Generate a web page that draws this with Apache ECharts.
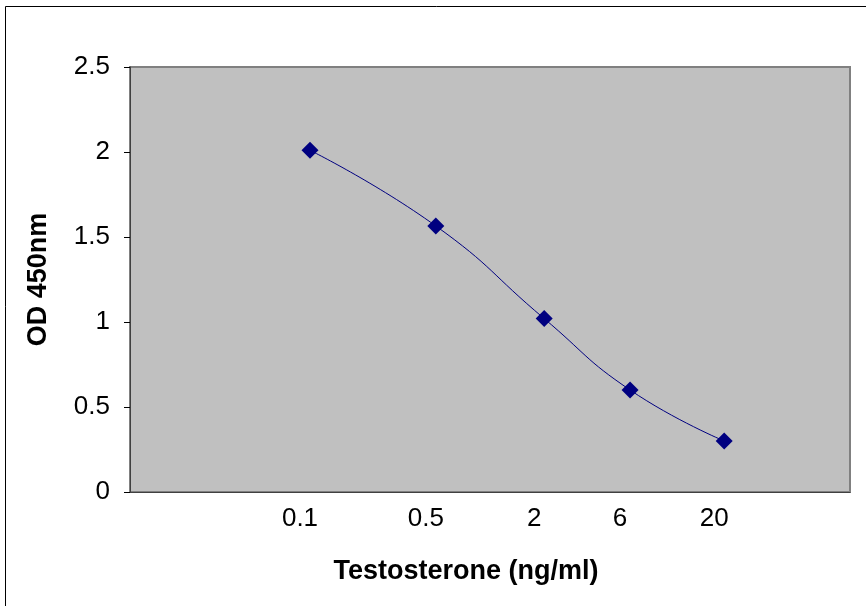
<!DOCTYPE html>
<html>
<head>
<meta charset="utf-8">
<script src="https://cdn.jsdelivr.net/npm/echarts@6/dist/echarts.min.js"></script>
<style>
  html, body { margin: 0; padding: 0; background: #fff; }
  #chart { width: 866px; height: 606px; }
</style>
</head>
<body>
<div id="chart"></div>
<script>
// testosterone standard curve, x is log scale
const concentrations = [0.1, 0.5, 2, 6, 20];
const concLabels = ['0.1', '0.5', '2', '6', '20'];
const odValues = [2.01, 1.565, 1.02, 0.6, 0.3];

const logX = concentrations.map(c => Math.log10(c));
const points = logX.map((x, i) => [x, odValues[i]]);

const chart = echarts.init(document.getElementById('chart'));
chart.setOption({
  backgroundColor: '#ffffff',
  animation: false,
  textStyle: { fontFamily: 'Liberation Sans, Arial, sans-serif' },
  grid: {
    left: 130, right: 16, top: 67, bottom: 114,
    show: true,
    backgroundColor: '#c0c0c0',
    borderColor: '#808080',
    borderWidth: 2
  },
  graphic: [{
    type: 'rect',
    shape: { x: 5.5, y: 6.5, width: 1000, height: 1000 },
    style: { fill: 'none', stroke: '#000', lineWidth: 1 },
    silent: true
  }],
  xAxis: {
    type: 'value',
    min: -2,
    max: 2,
    name: 'Testosterone (ng/ml)',
    nameLocation: 'middle',
    nameGap: 66,
    nameTextStyle: { fontSize: 27, fontWeight: 'bold', color: '#000', padding: [0, 48, 0, 0] },
    axisLine: { onZero: false, lineStyle: { color: '#404040', width: 1 } },
    axisTick: { show: false },
    splitLine: { show: false },
    axisLabel: {
      customValues: logX,
      fontSize: 26,
      color: '#000',
      margin: 14,
      padding: [0, 20, 0, 0],
      formatter: v => {
        const i = logX.findIndex(x => Math.abs(x - v) < 1e-6);
        return i >= 0 ? concLabels[i] : '';
      }
    }
  },
  yAxis: {
    type: 'value',
    min: 0,
    max: 2.5,
    interval: 0.5,
    name: 'OD 450nm',
    nameLocation: 'middle',
    nameGap: 78,
    nameTextStyle: { fontSize: 27, fontWeight: 'bold', color: '#000' },
    axisLine: { show: true, onZero: false, lineStyle: { color: '#404040', width: 1 } },
    axisTick: { show: true, length: 6, lineStyle: { color: '#000' } },
    splitLine: { show: false },
    axisLabel: {
      fontSize: 26,
      color: '#000',
      margin: 20,
      formatter: v => String(v)
    }
  },
  series: [{
    type: 'line',
    data: points,
    smooth: true,
    symbol: 'diamond',
    symbolSize: 17,
    itemStyle: { color: '#000080' },
    lineStyle: { color: '#000080', width: 1 }
  }]
});
</script>
</body>
</html>
